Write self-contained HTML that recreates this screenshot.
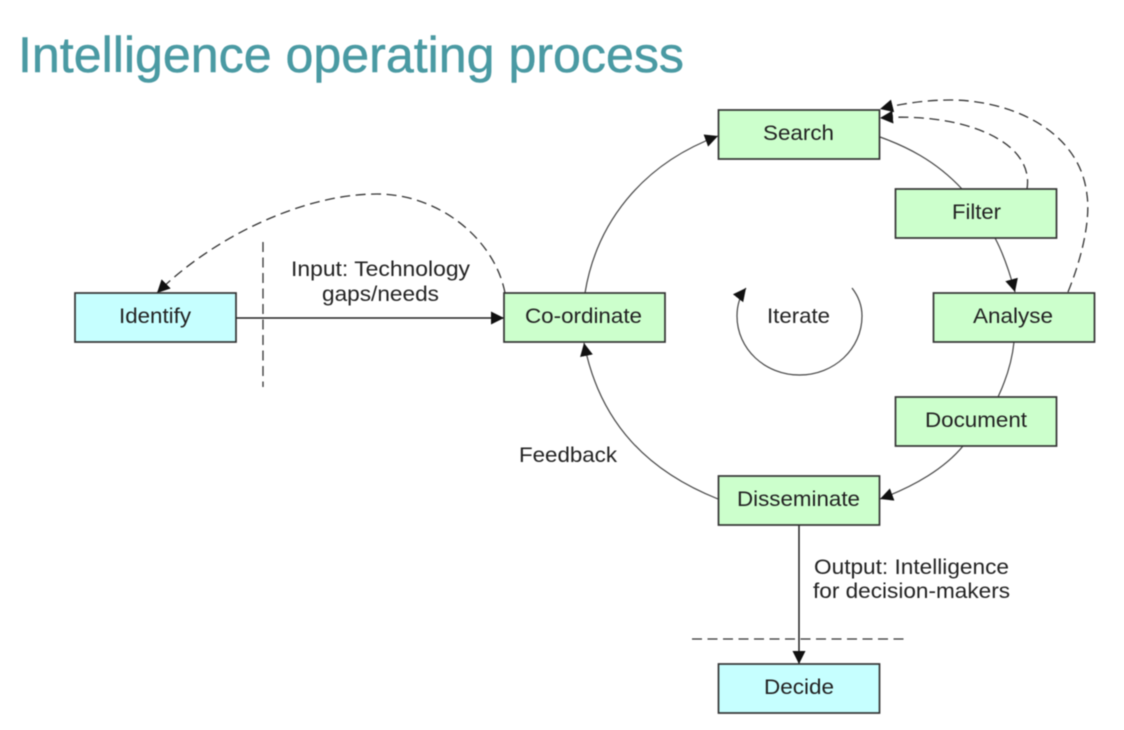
<!DOCTYPE html>
<html>
<head>
<meta charset="utf-8">
<title>Intelligence operating process</title>
<style>
html,body{margin:0;padding:0;background:#fff;width:1124px;height:730px;overflow:hidden}
svg{display:block;filter:blur(.5px)}
text{font-family:"Liberation Sans",sans-serif;font-size:21.5px;fill:#222}
.t{font-size:50px;fill:#4a9aa3;stroke:#4a9aa3;stroke-width:.5}
.b{stroke:#333;stroke-width:1.7}
.g{fill:#ccffcc}
.c{fill:#c6ffff}
.l{fill:none;stroke:#444;stroke-width:1.2}
.s{fill:none;stroke:#222;stroke-width:1.5}
.d{fill:none;stroke:#333;stroke-width:1.3;stroke-dasharray:10 5.500}
</style>
</head>
<body>
<svg width="1124" height="730" viewBox="0 0 1124 730" xmlns="http://www.w3.org/2000/svg">
<defs>
<marker id="a" markerUnits="userSpaceOnUse" markerWidth="16" markerHeight="14" refX="13" refY="6.500" orient="auto">
<path d="M0 0L13 6.500L0 13Z" fill="#111"/>
</marker>
</defs>
<rect width="1124" height="730" fill="#fff"/>
<text class="t" x="18" y="72" textLength="666" lengthAdjust="spacingAndGlyphs">Intelligence operating process</text>

<path class="d" d="M505 293C495 240 440 194 377 194C300 194 210 240 157 293" marker-end="url(#a)"/>
<path class="d" d="M1027 189C1035 140 960 112 880 118" marker-end="url(#a)"/>
<path class="d" d="M1068 292C1085 250 1090 215 1087 195C1080 130 1010 100 950 100C925 100 900 104 880 109" marker-end="url(#a)"/>
<path class="d" d="M263 242V387"/>
<path class="d" d="M692 639H908"/>

<path class="l" d="M585 293C596 225 640 165 718 136" marker-end="url(#a)"/>
<path class="l" d="M880 137C905 146 935 160 962 189"/>
<path class="l" d="M995 238C1003 253 1009 270 1015 292" marker-end="url(#a)"/>
<path class="l" d="M1014 342C1012 362 1006 380 998 397"/>
<path class="l" d="M963 446C945 468 915 486 880 499" marker-end="url(#a)"/>
<path class="l" d="M718 499C650 472 600 425 584 343" marker-end="url(#a)"/>
<path class="l" d="M852 288C859 297 862 306 862 316C862 349 834 375 799.500 375C765 375 737 349 737 316C737 306 739 297 746 288" marker-end="url(#a)"/>
<path class="s" d="M236 318H504" marker-end="url(#a)"/>
<path class="s" d="M799 525V664" marker-end="url(#a)"/>

<rect class="b c" x="75" y="293" width="161" height="49"/>
<rect class="b g" x="504" y="293" width="161" height="49"/>
<rect class="b g" x="718.500" y="110" width="161" height="49"/>
<rect class="b g" x="895.500" y="189" width="161" height="49"/>
<rect class="b g" x="933.500" y="293" width="161" height="49"/>
<rect class="b g" x="895.500" y="397" width="161" height="49"/>
<rect class="b g" x="718.500" y="476" width="161" height="49"/>
<rect class="b c" x="718.500" y="664" width="161" height="49"/>

<text x="119" y="323" textLength="72" lengthAdjust="spacingAndGlyphs">Identify</text>
<text x="525" y="323" textLength="117" lengthAdjust="spacingAndGlyphs">Co-ordinate</text>
<text x="763" y="140" textLength="71" lengthAdjust="spacingAndGlyphs">Search</text>
<text x="952" y="219" textLength="49" lengthAdjust="spacingAndGlyphs">Filter</text>
<text x="973" y="323" textLength="80" lengthAdjust="spacingAndGlyphs">Analyse</text>
<text x="925" y="427" textLength="102" lengthAdjust="spacingAndGlyphs">Document</text>
<text x="737" y="506" textLength="123" lengthAdjust="spacingAndGlyphs">Disseminate</text>
<text x="764" y="694" textLength="70" lengthAdjust="spacingAndGlyphs">Decide</text>
<text x="767" y="323" textLength="63" lengthAdjust="spacingAndGlyphs">Iterate</text>
<text x="291" y="276" textLength="179" lengthAdjust="spacingAndGlyphs">Input: Technology</text>
<text x="322" y="301" textLength="117" lengthAdjust="spacingAndGlyphs">gaps/needs</text>
<text x="519" y="462" textLength="98" lengthAdjust="spacingAndGlyphs">Feedback</text>
<text x="814" y="574" textLength="195" lengthAdjust="spacingAndGlyphs">Output: Intelligence</text>
<text x="813" y="598" textLength="197" lengthAdjust="spacingAndGlyphs">for decision-makers</text>
</svg>
</body>
</html>
